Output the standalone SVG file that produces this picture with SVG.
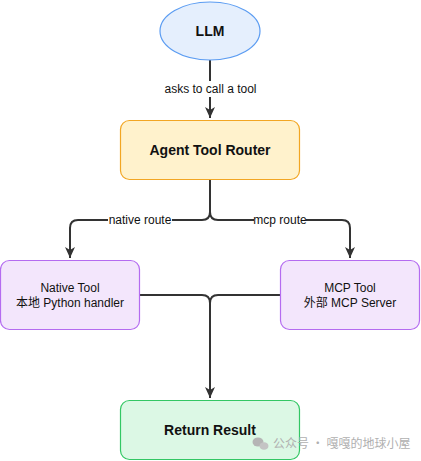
<svg xmlns="http://www.w3.org/2000/svg" width="421" height="461" viewBox="0 0 421 461">
<defs>
<marker id="arr" markerUnits="userSpaceOnUse" markerWidth="12" markerHeight="12" viewBox="0 0 12 12" refX="11" refY="6" orient="auto">
<path d="M0,1 L11,6 L0,11 L3,6 Z" fill="#333333"/>
</marker>
</defs>
<style>
.conn{fill:none;stroke:#333333;stroke-width:2}
.t{font-family:"Liberation Sans",Arial,"Noto Sans CJK SC",sans-serif;font-size:12px;fill:#111111;text-anchor:middle}
.b{font-weight:bold;font-size:14px}
.lbl{fill:#ffffff}
</style>
<rect x="0" y="0" width="421" height="461" fill="#ffffff"/>
<g id="connectors">
<path class="conn" d="M210,60 V118" marker-end="url(#arr)"/>
<rect class="lbl" x="163" y="81" width="95" height="16"/>
<text class="t" x="210.5" y="93">asks to call a tool</text>
<path class="conn" d="M210,180 V212 Q210,220 202,220 H78 Q70,220 70,228 V258" marker-end="url(#arr)"/>
<path class="conn" d="M210,212 Q210,220 218,220 H342 Q350,220 350,228 V258" marker-end="url(#arr)"/>
<rect class="lbl" x="108" y="212" width="64" height="16"/>
<text class="t" x="140" y="224">native route</text>
<rect class="lbl" x="254" y="212" width="52" height="16"/>
<text class="t" x="280" y="224">mcp route</text>
<path class="conn" d="M140,295 H202 Q210,295 210,303 V398" marker-end="url(#arr)"/>
<path class="conn" d="M280,295 H218 Q210,295 210,303"/>
</g>
<g id="llm">
<ellipse cx="210" cy="31" rx="50" ry="29" fill="#e5effd" stroke="#5b9cf2" stroke-width="1.2"/>
<text class="t b" x="210" y="36">LLM</text>
</g>
<g id="router">
<rect x="120.5" y="120.5" width="179" height="59" rx="9" fill="#fff2cc" stroke="#f2a623" stroke-width="1.2"/>
<text class="t b" x="210" y="155">Agent Tool Router</text>
</g>
<g id="native">
<rect x="0.5" y="260.5" width="139" height="69" rx="9" fill="#f3e6fc" stroke="#b46cf0" stroke-width="1.2"/>
<text class="t" x="70" y="292">Native Tool</text>
<text class="t" x="70" y="307">本地 Python handler</text>
</g>
<g id="mcp">
<rect x="280.5" y="260.5" width="139" height="69" rx="9" fill="#f3e6fc" stroke="#b46cf0" stroke-width="1.2"/>
<text class="t" x="350" y="292">MCP Tool</text>
<text class="t" x="350" y="307">外部 MCP Server</text>
</g>
<g id="result">
<rect x="120.5" y="400.5" width="179" height="59" rx="9" fill="#dcf8e5" stroke="#33c764" stroke-width="1.2"/>
<text class="t b" x="210" y="435">Return Result</text>
</g>
<g id="watermark">
<ellipse cx="258" cy="442" rx="5.5" ry="4.5" fill="#b5b5b5"/>
<ellipse cx="264" cy="446" rx="4.5" ry="3.8" fill="#c4c4c4"/>
<text x="273" y="448" style="font-family:'Noto Sans CJK SC','Liberation Sans',sans-serif;font-size:12px;fill:#b0b0b0">公众号 · 嘎嘎的地球小屋</text>
</g>
</svg>
